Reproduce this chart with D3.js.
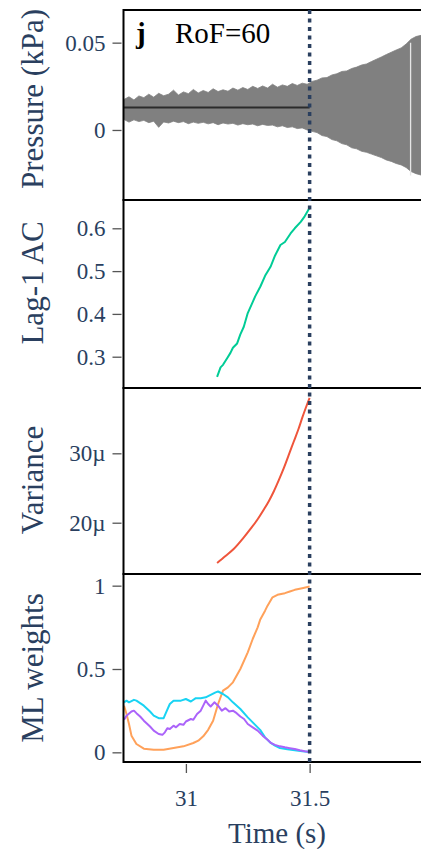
<!DOCTYPE html>
<html>
<head>
<meta charset="utf-8">
<script src="https://cdn.jsdelivr.net/npm/d3@7"></script>
<style>
body { margin: 0; background: #fff; }
svg { display: block; }
svg text { font-family: "Liberation Serif", serif; }
</style>
</head>
<body>
<svg id="chart" width="421" height="849"></svg>
<script>
// ---- data ----
const panelLabel = "j";
const runLabel = "RoF=60";
const transitionTime = 31.5;

// pressure signal, drawn as its envelope (kPa)
const pressureTimes = [30.75, 30.77, 30.79, 30.81, 30.83, 30.85, 30.87, 30.89, 30.91, 30.93,
    30.95, 30.97, 30.99, 31.01, 31.03, 31.05, 31.07, 31.09, 31.11, 31.13,
    31.15, 31.17, 31.19, 31.21, 31.23, 31.25, 31.27, 31.29, 31.31, 31.33,
    31.35, 31.37, 31.39, 31.41, 31.43, 31.45, 31.47, 31.49, 31.51, 31.53,
    31.55, 31.57, 31.59, 31.61, 31.63, 31.65, 31.67, 31.69, 31.71, 31.73,
    31.75, 31.77, 31.79, 31.81, 31.83, 31.85, 31.87, 31.89, 31.91, 31.93, 31.96];
const pressureUpper = [0.0175, 0.0190, 0.0172, 0.0195, 0.0185, 0.0205, 0.0188, 0.0210, 0.0196, 0.0205,
    0.0228, 0.0200, 0.0218, 0.0208, 0.0232, 0.0212, 0.0226, 0.0215, 0.0236, 0.0220,
    0.0230, 0.0222, 0.0240, 0.0228, 0.0243, 0.0232, 0.0250, 0.0238, 0.0252, 0.0240,
    0.0262, 0.0245, 0.0258, 0.0250, 0.0266, 0.0255, 0.0268, 0.0262, 0.0278, 0.0285,
    0.0298, 0.0300, 0.0315, 0.0322, 0.0335, 0.0338, 0.0352, 0.0360, 0.0372, 0.0378,
    0.0392, 0.0405, 0.0418, 0.0432, 0.0445, 0.0458, 0.0470, 0.0492, 0.0520, 0.0535, 0.0545];
const pressureLower = [0.0060, 0.0045, 0.0058, 0.0048, 0.0055, 0.0042, 0.0050, 0.0015, 0.0046, 0.0040,
    0.0050, 0.0042, 0.0048, 0.0036, 0.0045, 0.0038, 0.0044, 0.0035, 0.0042, 0.0030,
    0.0040, 0.0034, 0.0038, 0.0028, 0.0036, 0.0030, 0.0034, 0.0024, 0.0032, 0.0026,
    0.0028, 0.0018, 0.0024, 0.0014, 0.0018, 0.0008, 0.0012, 0.0000, -0.0008, -0.0015,
    -0.0032, -0.0038, -0.0055, -0.0062, -0.0078, -0.0085, -0.0102, -0.0108, -0.0122, -0.0128,
    -0.0138, -0.0148, -0.0158, -0.0172, -0.0180, -0.0192, -0.0200, -0.0215, -0.0238, -0.0250, -0.0262];
const pressureGaps = [31.908];
const meanTimes = [30.75, 31.5];
const meanValues = [0.0128, 0.0128];

// lag-1 autocorrelation
const acTimes = [31.126, 31.14, 31.15, 31.166, 31.18, 31.19, 31.207, 31.22, 31.234, 31.25, 31.268, 31.28,
    31.301, 31.32, 31.342, 31.36, 31.382, 31.40, 31.423, 31.44, 31.464, 31.48, 31.5];
const acValues = [0.253, 0.275, 0.281, 0.296, 0.309, 0.321, 0.331, 0.352, 0.370, 0.402, 0.425, 0.441,
    0.464, 0.489, 0.510, 0.536, 0.561, 0.568, 0.588, 0.600, 0.615, 0.628, 0.648];

// variance
const varTimes = [31.126, 31.16, 31.193, 31.23, 31.261, 31.29, 31.315, 31.335, 31.355, 31.375, 31.396,
    31.415, 31.436, 31.455, 31.47, 31.485, 31.5];
const varValues = [14.2e-6, 15.2e-6, 16.2e-6, 17.7e-6, 19.1e-6, 20.5e-6, 21.9e-6, 23.1e-6, 24.5e-6, 26.1e-6,
    27.9e-6, 29.7e-6, 31.7e-6, 33.5e-6, 35.1e-6, 36.6e-6, 38.0e-6];

// ML weights, three classes
const mlOrangeTimes = [30.75, 30.76, 30.77, 30.78, 30.80, 30.83, 30.87, 30.91, 30.95, 30.99, 31.03, 31.05,
    31.07, 31.09, 31.11, 31.13, 31.15, 31.17, 31.19, 31.22, 31.25, 31.27, 31.29, 31.30, 31.32, 31.33,
    31.35, 31.37, 31.40, 31.42, 31.44, 31.47, 31.5];
const mlOrange = [0.28, 0.23, 0.17, 0.10, 0.05, 0.022, 0.015, 0.016, 0.026, 0.036, 0.056, 0.07,
    0.096, 0.135, 0.19, 0.29, 0.37, 0.39, 0.42, 0.50, 0.60, 0.68, 0.75, 0.795, 0.85, 0.88,
    0.93, 0.945, 0.955, 0.965, 0.975, 0.985, 0.995];
const mlCyanTimes = [30.75, 30.76, 30.77, 30.79, 30.80, 30.815, 30.83, 30.855, 30.87, 30.89, 30.91, 30.92,
    30.935, 30.95, 30.98, 31.0, 31.02, 31.04, 31.06, 31.08, 31.10, 31.12, 31.13, 31.15, 31.17, 31.19,
    31.22, 31.25, 31.28, 31.30, 31.32, 31.34, 31.36, 31.38, 31.41, 31.44, 31.47, 31.5];
const mlCyan = [0.30, 0.31, 0.30, 0.315, 0.31, 0.295, 0.28, 0.245, 0.22, 0.205, 0.205, 0.24,
    0.29, 0.31, 0.31, 0.32, 0.305, 0.325, 0.325, 0.33, 0.345, 0.36, 0.365, 0.35, 0.33, 0.30,
    0.26, 0.21, 0.165, 0.135, 0.09, 0.06, 0.04, 0.026, 0.018, 0.012, 0.006, 0.002];
const mlPurpleTimes = [30.75, 30.76, 30.78, 30.79, 30.80, 30.815, 30.83, 30.855, 30.87, 30.89, 30.905, 30.915,
    30.925, 30.935, 30.95, 30.96, 30.975, 30.99, 31.0, 31.02, 31.03, 31.045, 31.06, 31.07, 31.08, 31.09,
    31.10, 31.115, 31.13, 31.145, 31.16, 31.175, 31.19, 31.205, 31.22, 31.235, 31.25, 31.27, 31.29, 31.31,
    31.33, 31.345, 31.36, 31.38, 31.40, 31.42, 31.44, 31.46, 31.48, 31.5];
const mlPurple = [0.195, 0.22, 0.245, 0.25, 0.235, 0.215, 0.19, 0.155, 0.13, 0.11, 0.105, 0.12,
    0.145, 0.14, 0.16, 0.15, 0.17, 0.165, 0.185, 0.20, 0.195, 0.23, 0.25, 0.28, 0.31, 0.29,
    0.275, 0.30, 0.28, 0.25, 0.265, 0.245, 0.25, 0.235, 0.215, 0.20, 0.17, 0.15, 0.13, 0.10,
    0.075, 0.055, 0.045, 0.036, 0.03, 0.025, 0.02, 0.012, 0.006, 0.002];

// tick values
const timeTicks = [31, 31.5];
const pressureTicks = [0, 0.05];
const acTicks = [0.3, 0.4, 0.5, 0.6];
const varTicks = [20e-6, 30e-6];
const mlTicks = [0, 0.5, 1];

// ---- layout ----
const svg = d3.select("#chart");
const textColor = "#2a3f5f";
const serif = "'Liberation Serif', serif";
const left = 123.5, right = 423;

const x = d3.scaleLinear().domain([30.7478, 31.9582]).range([left, right]);

const panels = [
    { top: 10, bottom: 200, domain: [-0.0401, 0.0687], ticks: pressureTicks, fmt: d3.format("~g"), title: "Pressure (kPa)", titleY: 99 },
    { top: 200, bottom: 388, domain: [0.2269, 0.6661], ticks: acTicks, fmt: d3.format(".1f"), title: "Lag-1 AC", titleY: 283 },
    { top: 388, bottom: 574, domain: [12.61e-6, 39.41e-6], ticks: varTicks, fmt: d3.format("~s"), title: "Variance", titleY: 480 },
    { top: 574, bottom: 762, domain: [-0.058, 1.070], ticks: mlTicks, fmt: d3.format("~g"), title: "ML weights", titleY: 668 }
];
panels.forEach(p => {
    p.y = d3.scaleLinear().domain(p.domain).range([p.bottom, p.top]);
});

// clip paths per panel
const defs = svg.append("defs");
panels.forEach((p, i) => {
    defs.append("clipPath").attr("id", "clip" + i)
        .append("rect")
        .attr("x", left).attr("y", p.top)
        .attr("width", right - left).attr("height", p.bottom - p.top);
});

// ---- panel 1: pressure ----
const py = panels[0].y;
const pressureData = pressureTimes.map((t, i) => ({ t: t, hi: pressureUpper[i], lo: pressureLower[i] }));
const g1 = svg.append("g").attr("clip-path", "url(#clip0)");
g1.append("path")
    .datum(pressureData)
    .attr("fill", "#808080")
    .attr("stroke", "#808080")
    .attr("stroke-width", 0.8)
    .attr("d", d3.area()
        .x(d => x(d.t)).y0(d => py(d.lo)).y1(d => py(d.hi)));
g1.selectAll(".gap")
    .data(pressureGaps)
    .join("line")
    .attr("x1", d => x(d)).attr("x2", d => x(d))
    .attr("y1", py(0.05)).attr("y2", py(-0.026))
    .attr("stroke", "#e6e6e6").attr("stroke-width", 1.3);
g1.append("path")
    .datum(meanTimes.map((t, i) => [t, meanValues[i]]))
    .attr("fill", "none").attr("stroke", "#2b2b2b").attr("stroke-width", 2)
    .attr("d", d3.line().x(d => x(d[0])).y(d => py(d[1])));

// ---- simple line panels ----
function drawLine(panelIndex, times, values, color, curve) {
    const p = panels[panelIndex];
    svg.append("path")
        .datum(times.map((t, i) => [t, values[i]]))
        .attr("clip-path", "url(#clip" + panelIndex + ")")
        .attr("fill", "none")
        .attr("stroke", color)
        .attr("stroke-width", 2)
        .attr("stroke-linejoin", "round")
        .attr("d", d3.line().curve(curve || d3.curveLinear).x(d => x(d[0])).y(d => p.y(d[1])));
}

drawLine(1, acTimes, acValues, "#00cc96");
drawLine(2, varTimes, varValues, "#EF553B", d3.curveMonotoneX);
drawLine(3, mlOrangeTimes, mlOrange, "#FFA15A");
drawLine(3, mlCyanTimes, mlCyan, "#19d3f3");
drawLine(3, mlPurpleTimes, mlPurple, "#ab63fa");

// ---- frames, axes, titles ----
panels.forEach(p => {
    svg.append("rect")
        .attr("x", left).attr("y", p.top)
        .attr("width", right - left).attr("height", p.bottom - p.top)
        .attr("fill", "none").attr("stroke", "#000").attr("stroke-width", 2);

    const ax = svg.append("g")
        .attr("transform", `translate(${left - 2},0)`)
        .call(d3.axisLeft(p.y).tickValues(p.ticks).tickFormat(p.fmt).tickSize(9).tickPadding(7));
    ax.select(".domain").remove();
    ax.selectAll("line").attr("stroke", "#555").attr("stroke-width", 1.3);
    ax.selectAll("text").attr("fill", textColor).attr("font-size", 23)
        .attr("font-family", serif);

    svg.append("text")
        .attr("transform", `translate(43,${p.titleY}) rotate(-90)`)
        .attr("text-anchor", "middle")
        .attr("font-family", serif)
        .attr("fill", textColor)
        .attr("font-size", 31)
        .text(p.title);
});

const xa = svg.append("g")
    .attr("transform", `translate(0,${panels[3].bottom + 2})`)
    .call(d3.axisBottom(x).tickValues(timeTicks).tickFormat(d3.format("~g")).tickSize(9).tickPadding(17));
xa.select(".domain").remove();
xa.selectAll("line").attr("stroke", "#555").attr("stroke-width", 1.3);
xa.selectAll("text").attr("fill", textColor).attr("font-size", 23)
    .attr("font-family", serif);

svg.append("text")
    .attr("x", 277).attr("y", 843)
    .attr("text-anchor", "middle")
    .attr("font-family", serif)
    .attr("fill", textColor)
    .attr("font-size", 29)
    .text("Time (s)");

// transition marker
svg.append("line")
    .attr("x1", x(transitionTime)).attr("x2", x(transitionTime))
    .attr("y1", panels[0].top).attr("y2", panels[3].bottom)
    .attr("stroke", textColor)
    .attr("stroke-width", 3.5)
    .attr("stroke-dasharray", "4,4.5");

// panel annotation
svg.append("text")
    .attr("x", 136).attr("y", 43)
    .attr("font-family", serif)
    .attr("font-size", 29).attr("font-weight", "bold").attr("fill", "#000")
    .text(panelLabel);
svg.append("text")
    .attr("x", 175).attr("y", 43)
    .attr("font-family", serif)
    .attr("font-size", 29).attr("fill", "#000")
    .text(runLabel);
</script>
</body>
</html>
